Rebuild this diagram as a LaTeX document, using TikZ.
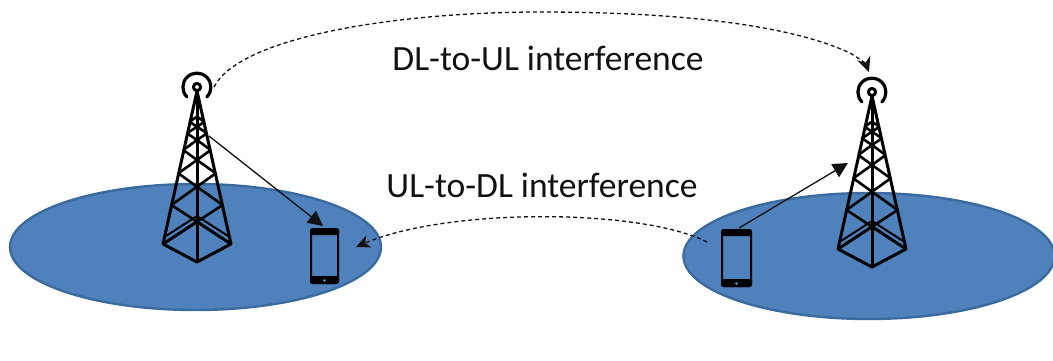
\documentclass[tikz,border=0pt]{standalone}
\usepackage{fontspec}
\setmainfont{Carlito}
\usetikzlibrary{arrows.meta,shapes.geometric}
\definecolor{cellfill}{HTML}{4F81BD}
\definecolor{celledge}{HTML}{3A6A9E}
\definecolor{inkc}{HTML}{111111}
\tikzset{
  x=1pt,y=-1pt,
  cell/.style={ellipse,draw=celledge,fill=cellfill,line width=2.4pt,minimum width=371pt,minimum height=126pt,inner sep=0pt},
  label text/.style={font=\fontsize{35.5}{38}\selectfont,text=inkc,inner sep=0pt,anchor=center},
  radio/.style={black,line width=3pt,line join=round},
  link/.style={inkc,line width=1.3pt,-{Triangle[length=15pt,width=15pt]}},
  interf/.style={inkc,line width=1.3pt,dash pattern=on 4pt off 3pt},
  phonebody/.style={draw=black,fill=none,line width=2pt,rounded corners=2.5pt,inner sep=0pt},
  tower/.pic={
    \draw[radio,line width=3.2pt,line cap=round] (-10,10) arc[start angle=135,end angle=405,radius=14];
    \draw[radio] (0,0) circle[radius=3.6];
    \draw[radio] (0,4) -- (-34,157) -- (0,175) -- (34,157) -- cycle;
    \draw[radio] (0,4) -- (0,175);
    \foreach \lg/\ca/\cb in {118/99.7/134.7,86.3/73/99.7,63/53/73,46.3/39.7/53,34.7/29.7/39.7}{
      \pgfmathsetmacro{\hw}{34*\lg/157}
      \draw[radio,line width=2.6pt] (-\hw,\lg) -- (0,\ca) (-\hw,\lg) -- (0,\cb) (\hw,\lg) -- (0,\ca) (\hw,\lg) -- (0,\cb);
    }
    \draw[radio] (-34,157) -- (0,134.7) -- (34,157);
    \draw[radio,line width=2pt] (-31,149) -- (0,129) -- (31,149);
  }
}
\begin{document}
\begin{tikzpicture}
\useasboundingbox (0,0) rectangle (1053,360);
\node[cell] (cellL) at (195.5,247) {};
\node[cell] (cellR) at (869,256) {};
\pic at (197,87) {tower};
\pic at (872,92) {tower};
% phones
\node[phonebody,minimum width=27pt,minimum height=54pt] (phoneL) at (324.5,256) {};
\node[phonebody,minimum width=29pt,minimum height=56pt] (phoneR) at (736.5,258) {};
\fill[black,rounded corners=2.5pt] (phoneL.north west) rectangle ([yshift=-7pt]phoneL.north east);
\fill[black,rounded corners=2.5pt] ([yshift=8pt]phoneL.south west) rectangle (phoneL.south east);
\fill[black,rounded corners=2.5pt] (phoneR.north west) rectangle ([yshift=-7pt]phoneR.north east);
\fill[black,rounded corners=2.5pt] ([yshift=8pt]phoneR.south west) rectangle (phoneR.south east);
\fill[cellfill] ([yshift=3.5pt]phoneL.south) circle[radius=1.6pt];
\fill[cellfill] ([yshift=3.5pt]phoneR.south) circle[radius=1.6pt];
% connector ends
\coordinate (towerLtap) at (209,136);
\coordinate (towerLtop) at (214,87);
\coordinate (towerRside) at (848,163);
\coordinate (towerRtop) at (869,72);
\coordinate (phoneLtop) at (323,226);
\coordinate (phoneRtop) at (739,228);
\coordinate (phoneRside) at (707,242);
\coordinate (cellLedge) at (356,247);
\draw[link] (towerLtap) -- (phoneLtop);
\draw[link] (phoneRtop) -- (towerRside);
\draw[interf,-{Stealth[length=15pt,width=14pt,inset=5pt]}] (towerLtop) .. controls (240,36) and (400,12) .. (540,12) .. controls (680,12) and (790,25) .. (850,53) .. controls (860,59) and (866,64) .. (towerRtop);
\draw[interf,-{Stealth[length=14pt,width=13pt,inset=4pt]}] (phoneRside) .. controls (640,208) and (446,208) .. (cellLedge);
\node[label text] (dlul) at (548,58) {DL-to-UL interference};
\node[label text] (uldl) at (542,185) {UL-to-DL interference};
\end{tikzpicture}
\end{document}
